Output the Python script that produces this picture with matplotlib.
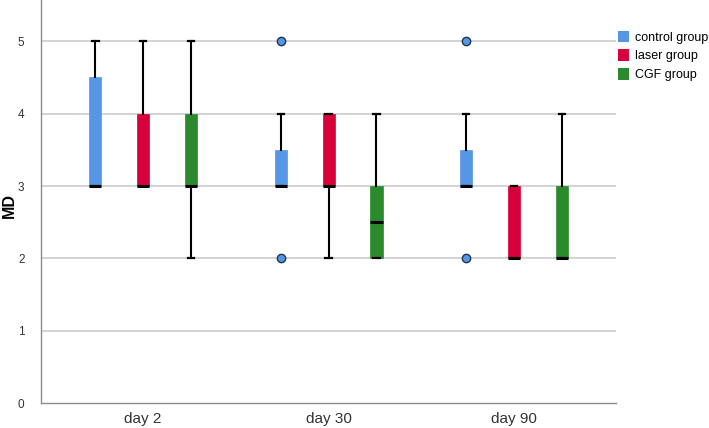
import numpy as np
import matplotlib.pyplot as plt

plt.rcParams["font.family"] = ["Liberation Sans", "DejaVu Sans"]

days = ["day 2", "day 30", "day 90"]
groups = ["control group", "laser group", "CGF group"]
colors = ["#5597E6", "#D8003A", "#2B8A2B"]

# box stats per group, one entry per day: (whislo, q1, med, q3, whishi)
control = [(3, 3, 3, 4.5, 5), (3, 3, 3, 3.5, 4), (3, 3, 3, 3.5, 4)]
laser = [(3, 3, 3, 4, 5), (2, 3, 3, 4, 4), (2, 2, 2, 3, 3)]
cgf = [(2, 3, 3, 4, 5), (2, 2, 2.5, 3, 4), (2, 2, 2, 3, 4)]
control_fliers = [[], [5, 2], [5, 2]]
laser_fliers = [[], [], []]
cgf_fliers = [[], [], []]

series = [(control, control_fliers), (laser, laser_fliers), (cgf, cgf_fliers)]
offsets = [-0.258, 0.0, 0.258]

fig = plt.figure(figsize=(7.09, 4.28), dpi=100)
ax = fig.add_axes([0.058, 0.058, 0.811, 0.942])

for gi, (stats_list, fliers) in enumerate(series):
    stats = []
    for (lo, q1, med, q3, hi), fl in zip(stats_list, fliers):
        stats.append(dict(whislo=lo, q1=q1, med=med, q3=q3, whishi=hi, fliers=fl))
    pos = np.arange(len(days)) + offsets[gi]
    ax.bxp(stats, positions=pos, widths=0.065, patch_artist=True,
           showfliers=True,
           boxprops=dict(facecolor=colors[gi], edgecolor=colors[gi], linewidth=0.5),
           medianprops=dict(color="black", linewidth=2.2),
           whiskerprops=dict(color="black", linewidth=1.5),
           capprops=dict(color="black", linewidth=1.6),
           capwidths=0.035,
           flierprops=dict(marker="o", markersize=6, markerfacecolor=colors[gi],
                           markeredgecolor="#1f3550", markeredgewidth=1.0),
           zorder=3)

ax.set_xlim(-0.55, 2.55)
ax.set_ylim(0, 5.57)
ax.set_xticks(range(len(days)))
ax.set_xticklabels(days, fontsize=11, color="#333333")
ax.set_yticks([0, 1, 2, 3, 4, 5])
ax.set_yticklabels(["0", "1", "2", "3", "4", "5"], fontsize=8.5, color="#333333")
ax.tick_params(length=0, pad=12)
ax.tick_params(axis="x", pad=6)
ax.set_ylabel("MD", fontsize=11.5, fontweight="bold")
ax.yaxis.set_label_coords(-0.042, 0.49)

for y in [1, 2, 3, 4, 5]:
    ax.axhline(y, color="#cccccc", linewidth=1.2, zorder=1)

for s in ["top", "right"]:
    ax.spines[s].set_visible(False)
for s in ["left", "bottom"]:
    ax.spines[s].set_color("#8c8c8c")
    ax.spines[s].set_linewidth(1.0)

handles = [plt.Rectangle((0, 0), 1, 1, facecolor=c, edgecolor="none") for c in colors]
fig.legend(handles, groups, loc="upper left", bbox_to_anchor=(0.864, 0.94),
           frameon=False, fontsize=9, handlelength=0.95, handleheight=1.05,
           handletextpad=0.45, labelspacing=0.45, borderaxespad=0)

fig.savefig("out.png", dpi=100)
